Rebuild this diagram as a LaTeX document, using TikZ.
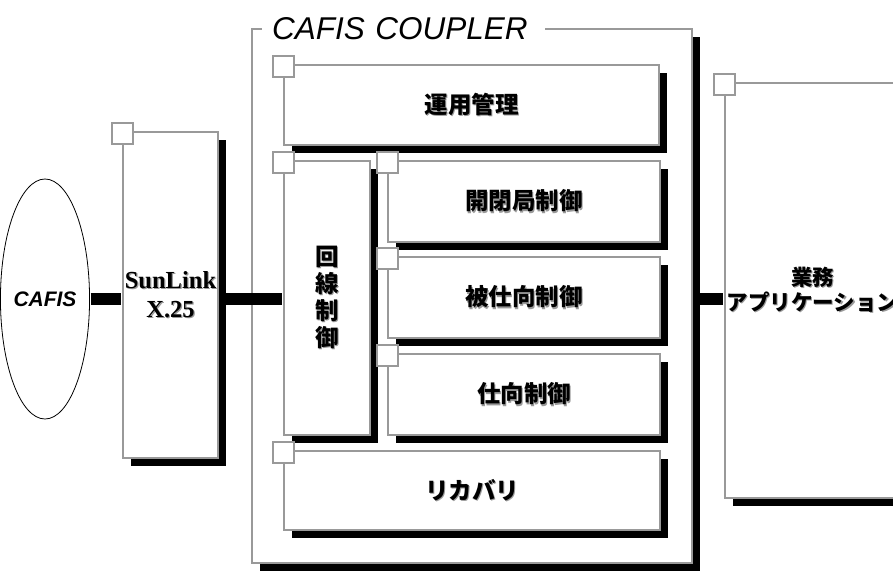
\documentclass[tikz,border=0pt]{standalone}
\usepackage{fontspec}
\setmainfont{Liberation Serif}
\setsansfont{Liberation Sans}
\newfontfamily\jpfont{Noto Sans CJK JP}
\usetikzlibrary{shapes.geometric, shadows}
\definecolor{boxgray}{gray}{0.6}
\newcommand{\shd}[1]{\makebox[0pt][l]{\kern1.2pt\raisebox{-1.2pt}{\textcolor{black!40}{#1}}}#1}
\tikzset{
	blk/.style={draw=boxgray, line width=1.7pt, fill=white, inner sep=0pt, align=center,
		drop shadow={shadow xshift=8pt, shadow yshift=-8pt, fill=black, opacity=1},
		font=\jpfont\bfseries\fontsize{23.5}{27}\selectfont},
	tab/.style={draw=boxgray, line width=1.7pt, fill=white, minimum size=21pt, inner sep=0pt, yshift=-2pt},
	bus/.style={line width=12pt, shorten <=.8pt, shorten >=.8pt},
}

\begin{document}
\begin{tikzpicture}[x=1pt, y=-1pt]
	\useasboundingbox (0, 0) rectangle (893, 570);
	% coupler frame and its title
	\node[blk, minimum width=440pt, minimum height=534pt](coupler) at (472, 296){};
	\node[fill=white, anchor=west, inner xsep=10pt, inner ysep=0pt, text width=263pt, align=left, font=\sffamily\itshape\fontsize{31.5}{31.5}\selectfont](title) at (262, 29){CAFIS COUPLER};
	% outside parts
	\node[ellipse, draw, line width=.8pt, minimum width=70pt, minimum height=240pt, inner sep=0pt, font=\sffamily\bfseries\itshape\fontsize{21}{21}\selectfont](cafis) at (45, 299){CAFIS};
	\node[blk, minimum width=95pt, minimum height=326pt, font=\rmfamily\bfseries\fontsize{24.5}{29}\selectfont](sunlink) at (170.5, 295){\shd{SunLink}\\\shd{X.25}};
	\node[blk, text width=175pt, minimum height=415pt, font=\jpfont\bfseries\fontsize{21.5}{25}\selectfont](app) at (812.5, 290.5){\shd{業務}\\\shd{アプリケーション}};
	% blocks of the coupler
	\node[blk, minimum width=375pt, minimum height=80pt](unyo) at (471.5, 105){\shd{運用管理}};
	\node[blk, minimum width=86pt, minimum height=274pt](kaisen) at (327, 298){\shd{回}\\\shd{線}\\\shd{制}\\\shd{御}};
	\node[blk, minimum width=272pt, minimum height=81pt](kaiheikyoku) at (524, 201.5){\shd{開閉局制御}};
	\node[blk, minimum width=272pt, minimum height=81pt](hishimuke) at (524, 297.5){\shd{被仕向制御}};
	\node[blk, minimum width=272pt, minimum height=81pt](shimuke) at (524, 394.5){\shd{仕向制御}};
	\node[blk, minimum width=376pt, minimum height=79pt](recovery) at (472, 490.5){\shd{リカバリ}};
	\foreach \b in {sunlink, app, unyo, kaisen, kaiheikyoku, hishimuke, shimuke, recovery}
		\node[tab](\b-tab) at (\b.north west){};
	% links
	\draw[bus](cafis.east)--(sunlink.west |- cafis.east);
	\draw[bus](sunlink.east |- cafis.east)--(kaisen.west |- cafis.east);
	\draw[bus](coupler.east |- cafis.east)--(app.west |- cafis.east);
\end{tikzpicture}
\end{document}
